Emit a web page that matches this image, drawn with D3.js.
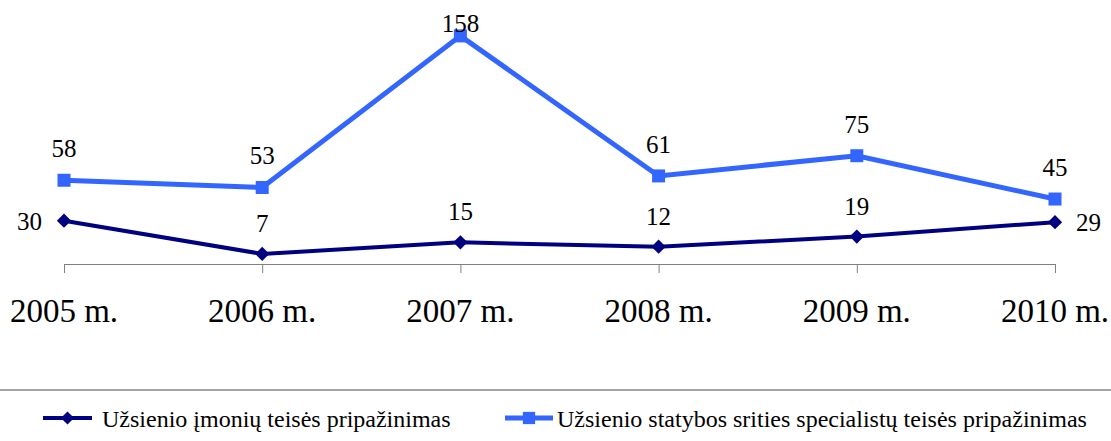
<!DOCTYPE html>
<html>
<head>
<meta charset="utf-8">
<script src="https://cdn.jsdelivr.net/npm/d3@7"></script>
<style>
  html, body { margin: 0; padding: 0; background: #fff; }
  svg { display: block; }
</style>
</head>
<body>
<svg id="chart" width="1111" height="441"></svg>
<script>
// chart data
const years = ['2005 m.', '2006 m.', '2007 m.', '2008 m.', '2009 m.', '2010 m.'];
const companies = [30, 7, 15, 12, 19, 29];
const specialists = [58, 53, 158, 61, 75, 45];
const seriesNames = [
  'Užsienio įmonių teisės pripažinimas',
  'Užsienio statybos srities specialistų teisės pripažinimas'
];

const serif = '"Liberation Serif", "Times New Roman", serif';
const svg = d3.select('#chart');
const width = +svg.attr('width');

const x = d3.scalePoint().domain(years).range([64, 1055]);
const y = d3.scaleLinear().domain([0, 160]).range([264, 33]);

const navy = '#000080';
const blue = '#3366FF';

// category axis: line + ticks, labels drawn separately
const axis = svg.append('g').attr('transform', 'translate(0,264)')
  .call(d3.axisBottom(x).tickSize(9).tickSizeOuter(0).tickFormat(''));
axis.select('.domain').attr('stroke', '#808080');
axis.selectAll('.tick line').attr('stroke', '#808080');

svg.append('g').selectAll('text')
  .data(years)
  .join('text')
  .attr('x', d => x(d))
  .attr('y', 322)
  .attr('text-anchor', 'middle')
  .attr('font-family', serif)
  .attr('font-size', 33)
  .text(d => d);

const line = d3.line()
  .x((d, i) => x(years[i]))
  .y(d => y(d));

// specialists series (squares)
svg.append('path')
  .datum(specialists)
  .attr('fill', 'none')
  .attr('stroke', blue)
  .attr('stroke-width', 5)
  .attr('d', line);

svg.append('g').selectAll('rect')
  .data(specialists)
  .join('rect')
  .attr('x', (d, i) => x(years[i]) - 6.5)
  .attr('y', d => y(d) - 6.5)
  .attr('width', 13)
  .attr('height', 13)
  .attr('fill', blue);

// companies series (diamonds)
svg.append('path')
  .datum(companies)
  .attr('fill', 'none')
  .attr('stroke', navy)
  .attr('stroke-width', 4)
  .attr('d', line);

const diamond = d3.symbol().type(d3.symbolDiamond2).size(130);
svg.append('g').selectAll('path')
  .data(companies)
  .join('path')
  .attr('transform', (d, i) => `translate(${x(years[i])},${y(d)})`)
  .attr('d', diamond)
  .attr('fill', navy);

// data labels (top one is kept inside the chart area, like Excel does)
svg.append('g').selectAll('text')
  .data(specialists)
  .join('text')
  .attr('x', (d, i) => x(years[i]))
  .attr('y', d => Math.max(y(d) - 23, 32))
  .attr('text-anchor', 'middle')
  .attr('font-family', serif)
  .attr('font-size', 25)
  .text(d => d);

svg.append('g').selectAll('text')
  .data(companies)
  .join('text')
  .attr('x', (d, i) => {
    if (i === 0) return x(years[i]) - 22;
    if (i === years.length - 1) return x(years[i]) + 21;
    return x(years[i]);
  })
  .attr('y', (d, i) => (i === 0 || i === years.length - 1) ? y(d) + 9 : y(d) - 22)
  .attr('text-anchor', (d, i) => i === 0 ? 'end' : (i === years.length - 1 ? 'start' : 'middle'))
  .attr('font-family', serif)
  .attr('font-size', 25)
  .text(d => d);

// separator above legend
svg.append('line')
  .attr('x1', 0).attr('x2', width)
  .attr('y1', 390).attr('y2', 390)
  .attr('stroke', '#868686')
  .attr('stroke-width', 1.5);

// legend
const legendY = 418;
const legendItems = [
  { name: seriesNames[0], color: navy, x0: 43, x1: 92, textX: 102, sw: 4, shape: 'diamond' },
  { name: seriesNames[1], color: blue, x0: 505, x1: 553, textX: 557, sw: 5, shape: 'square' }
];

const leg = svg.append('g').selectAll('g')
  .data(legendItems)
  .join('g');

leg.append('line')
  .attr('x1', d => d.x0).attr('x2', d => d.x1)
  .attr('y1', legendY).attr('y2', legendY)
  .attr('stroke', d => d.color)
  .attr('stroke-width', d => d.sw);

leg.append('path')
  .attr('transform', d => `translate(${(d.x0 + d.x1) / 2},${legendY})`)
  .attr('d', d => d.shape === 'diamond'
    ? d3.symbol().type(d3.symbolDiamond2).size(110)()
    : d3.symbol().type(d3.symbolSquare).size(150)())
  .attr('fill', d => d.color);

leg.append('text')
  .attr('x', d => d.textX)
  .attr('y', legendY + 9)
  .attr('font-family', serif)
  .attr('font-size', 24)
  .text(d => d.name);
</script>
</body>
</html>
